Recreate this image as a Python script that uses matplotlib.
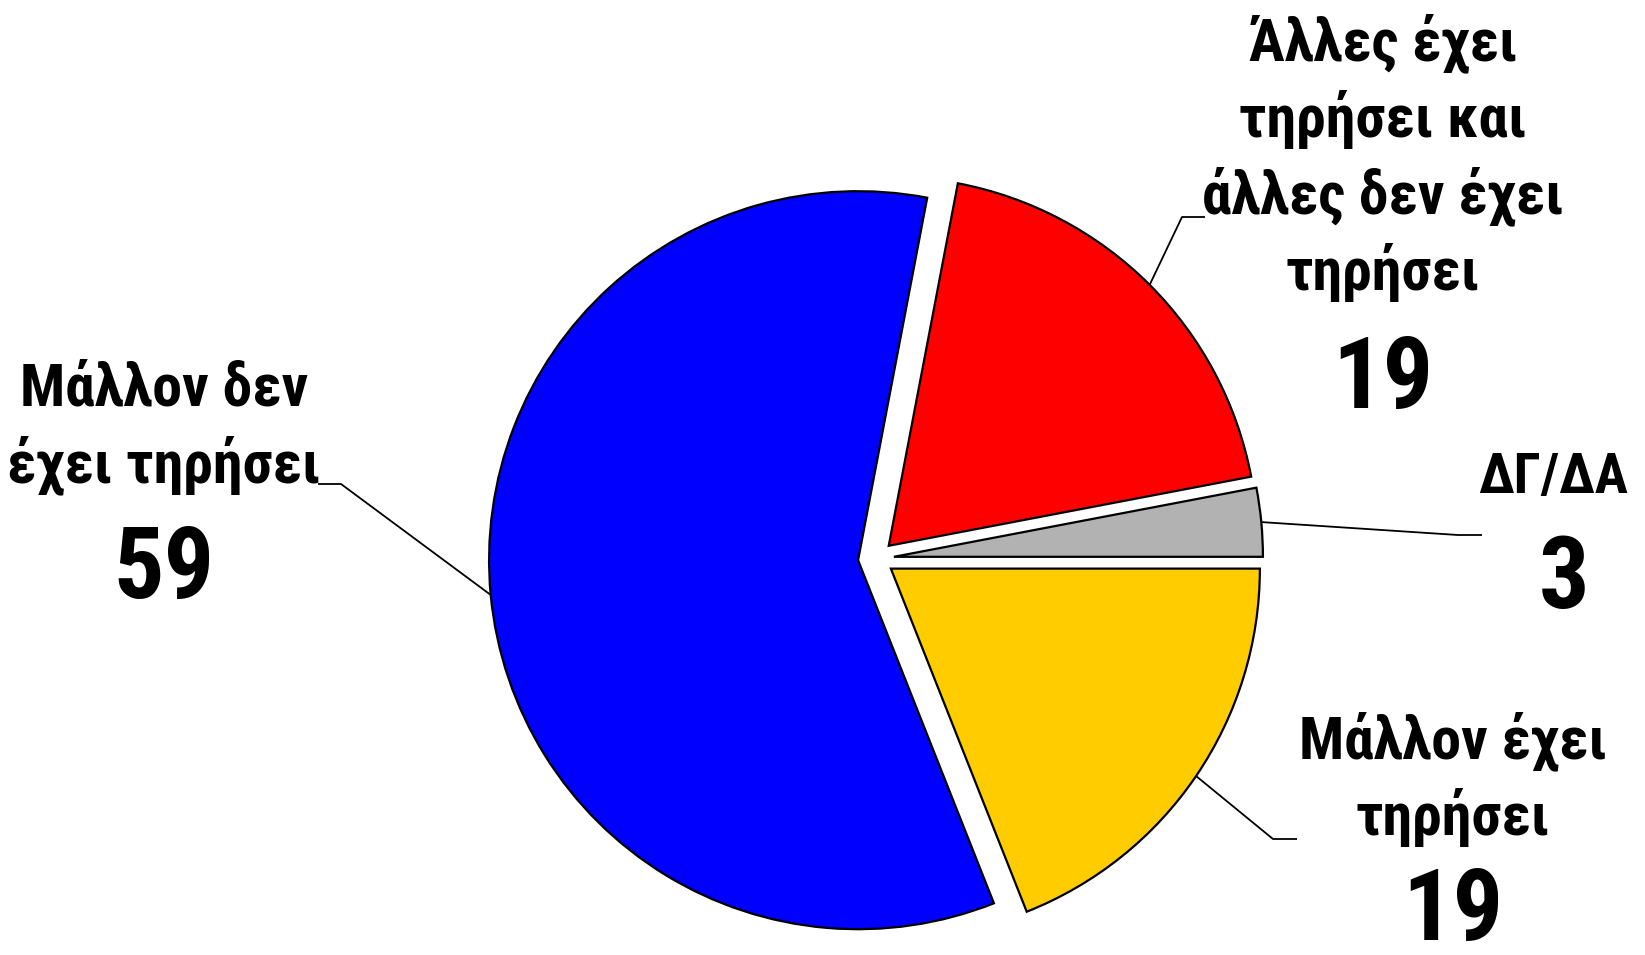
import numpy as np
import matplotlib
matplotlib.use("Agg")
import matplotlib.pyplot as plt

# pie data, counter-clockwise from 3 o'clock
labels = ["ΔΓ/ΔΑ",
          "Άλλες έχει\nτηρήσει και\nάλλες δεν έχει\nτηρήσει",
          "Μάλλον δεν\nέχει τηρήσει",
          "Μάλλον έχει\nτηρήσει"]
values = [3, 19, 59, 19]
colors = ["#B2B2B2", "#FF0000", "#0000FF", "#FFCC00"]

W, H = 1645, 955
FONT = ["Roboto Condensed", "DejaVu Sans"]

fig = plt.figure(figsize=(W / 100, H / 100), dpi=100)
ax = fig.add_axes([0, 0, 1, 1])
wedges, _ = ax.pie(values, colors=colors, startangle=0, counterclock=True,
                   center=(876, H - 558.5), radius=369, explode=[18] * 4,
                   wedgeprops=dict(edgecolor="black", linewidth=1.6))
ax.set_xlim(0, W); ax.set_ylim(0, H); ax.axis("off")

# label layout: (center x, first baseline y, line step, number x, number baseline, label size, elbow, line end)
layout = [
    (1553, 493, 0, 1564, 608, 40, (1458, 535), (1482, 535)),
    (1383, 60, 76.7, 1383, 408, 43, (1182, 217), (1205, 217)),
    (164, 405, 77, 164, 598, 43, (341, 484), (318, 484)),
    (1453, 758, 77, 1453, 940, 43, (1273, 839), (1297, 839)),
]

for w, lab, v, (cx, y0, step, nx, ny, fs, elbow, end) in zip(wedges, labels, values, layout):
    for i, line in enumerate(lab.split("\n")):
        ax.text(cx, H - (y0 + i * step), line, ha="center", va="baseline",
                fontsize=fs, fontweight="bold", family=FONT)
    ax.text(nx, H - ny, str(v), ha="center", va="baseline",
            fontsize=72, fontweight="bold", family=FONT)
    tm = np.deg2rad((w.theta1 + w.theta2) / 2)
    sx = w.center[0] + w.r * np.cos(tm); sy = w.center[1] + w.r * np.sin(tm)
    ax.plot([sx, elbow[0], end[0]], [sy, H - elbow[1], H - end[1]],
            color="black", lw=1.3, solid_capstyle="butt")

fig.savefig("out.png", dpi=100)
